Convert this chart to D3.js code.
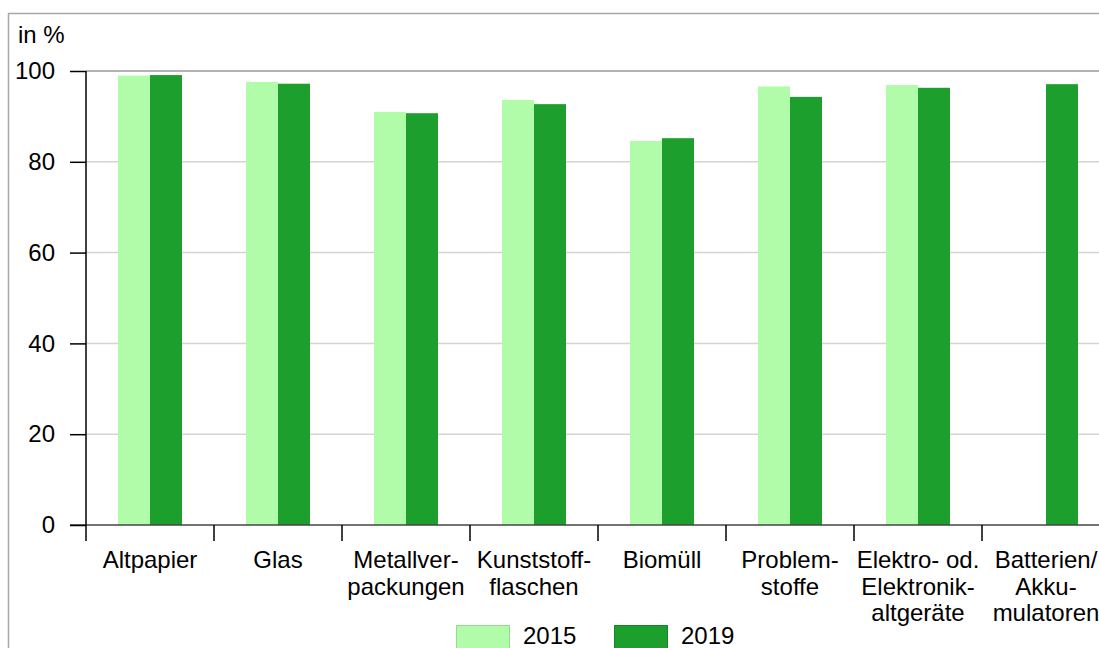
<!DOCTYPE html>
<html><head><meta charset="utf-8">
<script src="https://cdn.jsdelivr.net/npm/d3@7"></script>
<style>body{margin:0;background:#fff}svg{display:block}</style>
</head><body>
<svg id="c" width="1099" height="648"></svg>
<script>
const categories = ["Altpapier","Glas","Metallverpackungen","Kunststoffflaschen","Biomüll","Problemstoffe","Elektro- od. Elektronikaltgeräte","Batterien/Akkumulatoren"];
const categoryLines = [["Altpapier"],["Glas"],["Metallver-","packungen"],["Kunststoff-","flaschen"],["Biomüll"],["Problem-","stoffe"],["Elektro- od.","Elektronik-","altgeräte"],["Batterien/","Akku-","mulatoren"]];
const seriesNames = ["2015","2019"];
const values2015 = [99.0, 97.6, 91.0, 93.6, 84.6, 96.6, 96.9, null];
const values2019 = [99.1, 97.2, 90.7, 92.7, 85.2, 94.3, 96.3, 97.1];
const yTicks = [0,20,40,60,80,100];
const colors = ["#b0fca8","#1c9f2c"];
const strokeColors = ["#98d890","#15862a"];

const font = "'Liberation Sans', Arial, sans-serif";
const fs = 24;
const svg = d3.select("#c");

// outer frame
svg.append("rect").attr("x",8.5).attr("y",13.5).attr("width",1200).attr("height",1000)
  .attr("fill","none").attr("stroke","#a8a8a8").attr("stroke-width",1.5);

const x0 = 86, x1 = 86 + 128*categories.length;
const yTop = 71, yBot = 525;
const x = d3.scaleBand().domain(categories).range([x0,x1]).paddingInner(0).paddingOuter(0);
const xs = d3.scaleBand().domain(seriesNames).range([0,x.bandwidth()]).paddingInner(0).paddingOuter(1);
const y = d3.scaleLinear().domain([0,100]).range([yBot,yTop]);

// gridlines
svg.append("g").selectAll("line").data(yTicks.filter(t=>t>0 && t<100)).join("line")
  .attr("x1",x0).attr("x2",1099).attr("y1",d=>y(d)).attr("y2",d=>y(d))
  .attr("stroke","#d4d4d4").attr("stroke-width",1.5);
svg.append("line").attr("x1",x0).attr("x2",1099).attr("y1",y(100)).attr("y2",y(100))
  .attr("stroke","#9a9a9a").attr("stroke-width",1.5);

// bars
const data = categories.map((c,i)=>({c, vals:[values2015[i], values2019[i]]}));
const g = svg.append("g");
data.forEach(d=>{
  d.vals.forEach((v,j)=>{
    if (v==null) return;
    g.append("rect")
      .attr("x", x(d.c)+xs(seriesNames[j]))
      .attr("width", xs.bandwidth())
      .attr("y", y(v)).attr("height", y(0)-y(v))
      .attr("fill", colors[j]);
  });
});

// zero line
svg.append("line").attr("x1",70).attr("x2",1099).attr("y1",y(0)).attr("y2",y(0))
  .attr("stroke","#444").attr("stroke-width",1.5);

// y axis
const yAxis = d3.axisLeft(y).tickValues(yTicks).tickSize(16).tickPadding(15);
const ya = svg.append("g").attr("transform",`translate(${x0},0)`).call(yAxis);
ya.select(".domain").remove();
ya.selectAll(".tick line").attr("stroke","#000").attr("stroke-width",1.5);
ya.selectAll(".tick text").attr("font-family",font).attr("font-size",fs).attr("fill","#000");
svg.append("line").attr("x1",x0).attr("x2",x0).attr("y1",yTop).attr("y2",yBot+16)
  .attr("stroke","#000").attr("stroke-width",1.5);

// category separator ticks
const bounds = categories.map(c=>x(c)).concat([x1]);
svg.append("g").selectAll("line").data(bounds.slice(1)).join("line")
  .attr("x1",d=>d).attr("x2",d=>d).attr("y1",yBot).attr("y2",yBot+16)
  .attr("stroke","#000").attr("stroke-width",1.5);

// category labels
const lab = svg.append("g").attr("font-family",font).attr("font-size",fs).attr("fill","#000").attr("text-anchor","middle");
categories.forEach((c,i)=>{
  const t = lab.append("text").attr("x", x(c)+x.bandwidth()/2).attr("y", 568);
  categoryLines[i].forEach((ln,k)=>{
    t.append("tspan").attr("x", x(c)+x.bandwidth()/2).attr("dy", k===0?0:26.5).text(ln);
  });
});

// unit label
svg.append("text").attr("x",18).attr("y",43).attr("font-family",font).attr("font-size",fs).text("in %");

// legend
const lx = [456, 614];
seriesNames.forEach((s,j)=>{
  svg.append("rect").attr("x",lx[j]+0.5).attr("y",625.5).attr("width",53).attr("height",30)
    .attr("fill",colors[j]).attr("stroke",strokeColors[j]).attr("stroke-width",1);
  svg.append("text").attr("x",lx[j]+67).attr("y",644).attr("font-family",font).attr("font-size",fs).text(s);
});
</script>
</body></html>
